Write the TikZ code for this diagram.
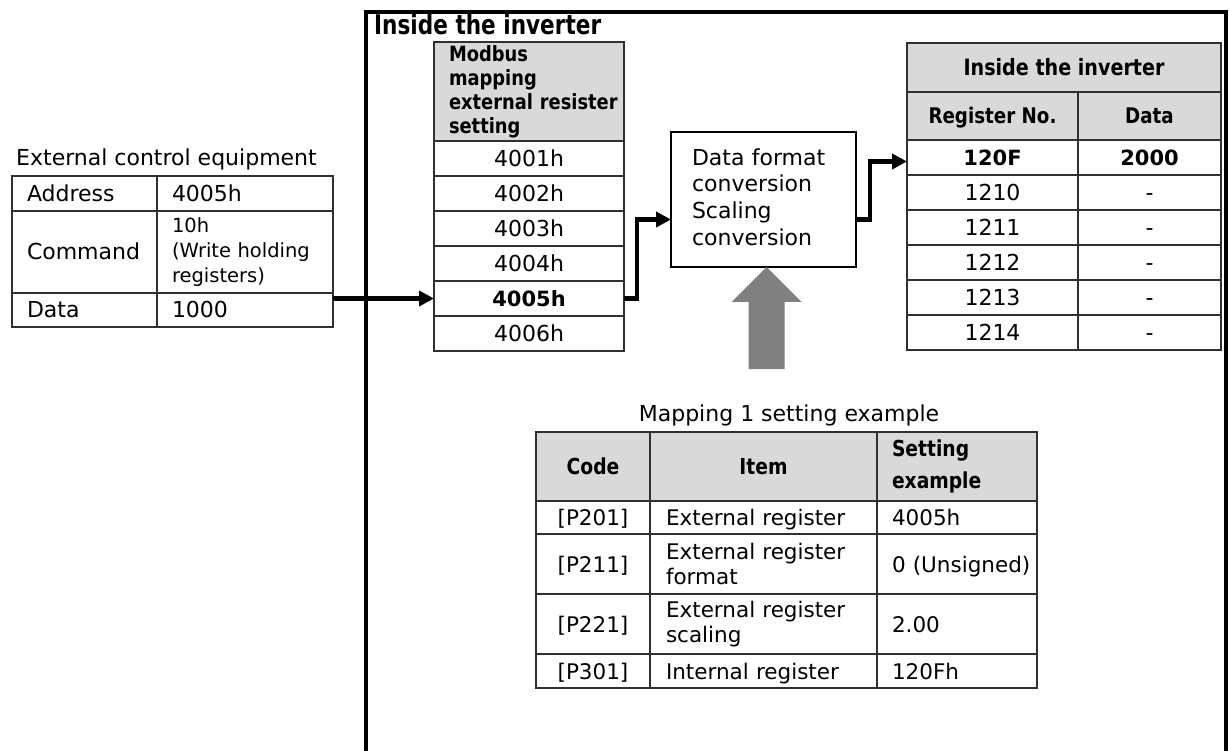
\documentclass[tikz,border=0pt]{standalone}
\usepackage{fontspec}
\setmainfont{DejaVu Sans}
\newfontfamily\hdfont{DejaVu Sans}[FakeStretch=0.85]
\newfontfamily\ttlfont{DejaVu Sans}[FakeStretch=0.8]
\usetikzlibrary{arrows.meta,calc}
\definecolor{hdgray}{HTML}{D9D9D9}
\definecolor{arrgray}{HTML}{808080}
\definecolor{linegray}{HTML}{303030}
\newcommand\fsz[2]{\fontsize{#1}{#2}\selectfont}
\begin{document}
\begin{tikzpicture}[x=1pt,y=-1pt,
  cell/.style={draw=linegray, line width=1.2pt, inner ysep=0pt, outer sep=0pt, anchor=north west, font=\fsz{22}{26}},
  ccell/.style 2 args={cell, minimum width=#1, minimum height=#2, inner xsep=1pt, align=center, text height=16pt, text depth=0pt},
  lcell/.style n args={3}{cell, minimum width=#1, minimum height=#2, inner xsep=1pt, text width=#1-2pt, align=left, execute at begin node={\leftskip=#3\relax}},
  sl/.style={text height=16pt, text depth=0pt},
  hd/.style={fill=hdgray, font=\hdfont\bfseries\fsz{#1}{26}},
  bd/.style={font=\bfseries\fsz{21}{26}},
  arr/.style={line width=4.5pt, line join=miter, -{Triangle[length=15pt,width=15pt]}},
  frame/.style={line width=4.5pt, line join=miter}
]
\useasboundingbox (0,0) rectangle (1229,751);

% outer frame
\draw[frame] (366,760) -- (366,12) -- (1226,12) -- (1226,760);
\node[anchor=base west, inner sep=0pt, font=\ttlfont\bfseries\fsz{27}{30}] (title) at (374,35) {Inside the inverter};

% external control equipment
\node[anchor=base west, inner sep=0pt, font=\fsz{22}{26}] (extlbl) at (16,166) {External control equipment};
\node[lcell={145pt}{35pt}{14pt}, sl] (addrL) at (12,176) {Address};
\node[lcell={176pt}{35pt}{14pt}, sl] (addrR) at (157,176) {4005h};
\node[lcell={145pt}{82pt}{14pt}, sl] (cmdL) at (12,211) {Command};
\node[lcell={176pt}{82pt}{14pt}, font=\fsz{19.5}{25}] (cmdR) at (157,211) {10h\\(Write holding\\registers)};
\node[lcell={145pt}{34pt}{14pt}, sl] (dataL) at (12,293) {Data};
\node[lcell={176pt}{34pt}{14pt}, sl] (dataR) at (157,293) {1000};

% modbus mapping column
\node[lcell={190pt}{99pt}{14pt}, fill=hdgray, font=\hdfont\bfseries\fsz{21}{24}] (mh) at (434,42) {Modbus\\mapping\\external resister\\setting};
\node[ccell={190pt}{35pt}] (m1) at (434,141) {4001h};
\node[ccell={190pt}{35pt}] (m2) at (434,176) {4002h};
\node[ccell={190pt}{35pt}] (m3) at (434,211) {4003h};
\node[ccell={190pt}{35pt}] (m4) at (434,246) {4004h};
\node[ccell={190pt}{35pt}, bd] (m5) at (434,281) {4005h};
\node[ccell={190pt}{35pt}] (m6) at (434,316) {4006h};

% conversion box
\node[lcell={185pt}{135pt}{20pt}, draw=black, line width=1.3pt, font=\fsz{22}{26.6}] (conv) at (671,132) {Data format\\conversion\\Scaling\\conversion\vspace{5pt}};

% inside the inverter table
\node[ccell={314pt}{49pt}, hd=22.5] (rh) at (907,43) {Inside the inverter};
\node[ccell={171pt}{48pt}, hd=21.5] (rhA) at (907,92) {Register No.};
\node[ccell={143pt}{48pt}, hd=21.5] (rhB) at (1078,92) {Data};
\node[ccell={171pt}{35pt}, bd] (ra1) at (907,140) {120F};
\node[ccell={143pt}{35pt}, bd] (rb1) at (1078,140) {2000};
\node[ccell={171pt}{35pt}] (ra2) at (907,175) {1210};
\node[ccell={143pt}{35pt}] (rb2) at (1078,175) {-};
\node[ccell={171pt}{35pt}] (ra3) at (907,210) {1211};
\node[ccell={143pt}{35pt}] (rb3) at (1078,210) {-};
\node[ccell={171pt}{35pt}] (ra4) at (907,245) {1212};
\node[ccell={143pt}{35pt}] (rb4) at (1078,245) {-};
\node[ccell={171pt}{35pt}] (ra5) at (907,280) {1213};
\node[ccell={143pt}{35pt}] (rb5) at (1078,280) {-};
\node[ccell={171pt}{35pt}] (ra6) at (907,315) {1214};
\node[ccell={143pt}{35pt}] (rb6) at (1078,315) {-};

% gray arrow
\coordinate (tip) at ($(conv.south)+(3,0)$);
\fill[arrgray] (tip) -- ++(35,35) -- ++(-17,0) -- ++(0,67) -- ++(-36,0) -- ++(0,-67) -- ++(-17,0) -- cycle;

% mapping 1 setting example
\node[anchor=base, inner sep=0pt, font=\fsz{22}{26}] (mt) at (789,421) {Mapping 1 setting example};
\node[ccell={114pt}{69pt}, hd=22] (c0a) at (536,432) {Code};
\node[ccell={227pt}{69pt}, hd=22] (c0b) at (650,432) {Item};
\node[lcell={160pt}{69pt}{14pt}, fill=hdgray, font=\hdfont\bfseries\fsz{22}{32}] (c0c) at (877,432) {Setting\\example};
\node[ccell={114pt}{33pt}, font=\fsz{21.5}{25}] (c1a) at (536,501) {[P201]};
\node[lcell={227pt}{33pt}{15pt}, sl, font=\fsz{21.5}{25}] (c1b) at (650,501) {External register};
\node[lcell={160pt}{33pt}{14pt}, sl, font=\fsz{21.5}{25}] (c1c) at (877,501) {4005h};
\node[ccell={114pt}{60pt}, font=\fsz{21.5}{25}] (c2a) at (536,534) {[P211]};
\node[lcell={227pt}{60pt}{15pt}, font=\fsz{21.5}{25}] (c2b) at (650,534) {External register\\format};
\node[lcell={160pt}{60pt}{14pt}, sl, font=\fsz{21.5}{25}] (c2c) at (877,534) {0 (Unsigned)};
\node[ccell={114pt}{60pt}, font=\fsz{21.5}{25}] (c3a) at (536,594) {[P221]};
\node[lcell={227pt}{60pt}{15pt}, font=\fsz{21.5}{25}] (c3b) at (650,594) {External register\\scaling};
\node[lcell={160pt}{60pt}{14pt}, sl, font=\fsz{21.5}{25}] (c3c) at (877,594) {2.00};
\node[ccell={114pt}{34pt}, font=\fsz{21.5}{25}] (c4a) at (536,654) {[P301]};
\node[lcell={227pt}{34pt}{15pt}, sl, font=\fsz{21.5}{25}] (c4b) at (650,654) {Internal register};
\node[lcell={160pt}{34pt}{14pt}, sl, font=\fsz{21.5}{25}] (c4c) at (877,654) {120Fh};

% connectors
\draw[arr] (dataR.east |- m5.west) -- (m5.west);
\draw[arr] (m5.east) -- ++(13,0) |- ([yshift=-20pt]conv.west);
\draw[arr] ([yshift=-20pt]conv.east) -- ++(14,0) |- ([yshift=-4pt]ra1.west);
\end{tikzpicture}
\end{document}
